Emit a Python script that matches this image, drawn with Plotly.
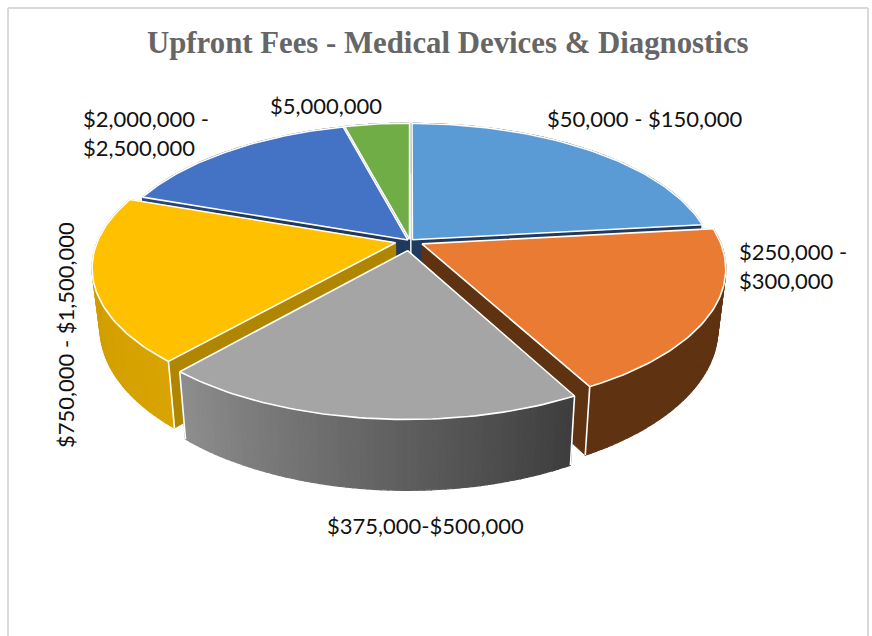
import math
import plotly.graph_objects as go

# Data
categories = ["$50,000 - $150,000", "$250,000 -<br>$300,000", "$375,000-$500,000",
              "$750,000 - $1,500,000", "$2,000,000 -<br>$2,500,000", "$5,000,000"]
shares = [23.2, 19.0, 19.2, 19.0, 15.5, 4.1]
title_text = "Upfront Fees - Medical Devices &amp; Diagnostics"

# Styles
top_colors = ["#5b9bd5", "#ea7b32", "#a5a5a5", "#ffc000", "#4472c4", "#70ad47"]
wall_left = ["#1f3a5c", "#5f3312", "#8e8e8e", "#d9a400", "#2a4679", "#43692b"]
wall_right = ["#1f3a5c", "#5f3312", "#3d3d3d", "#c99800", "#2a4679", "#43692b"]
face_start = ["#1f3a5c", "#1f3a5c", "#6f6f6f", "#b08600", "#1f3a5c", "#1f3a5c"]
face_end = ["#1f3a5c", "#5f3312", "#3d3d3d", "#b08600", "#1f3a5c", "#1f3a5c"]
explode = [0.012, 0.045, 0.07, 0.05, 0.01, 0.012]
draw_order = [0, 5, 4, 3, 1, 2]

CX, CY, A, B, K, DEPTH, CONV = 410, 241, 298, 136.5, 0.17, 58, 0.025


def project(X, Y, Z=0.0):
    s = 1 / (1 - K * Y)
    return CX + A * X * s * (1 - CONV * Z), CY + B * Y * s + DEPTH * Z * s


def mix(c1, c2, f):
    p = [int(c1[i:i + 2], 16) for i in (1, 3, 5)]
    q = [int(c2[i:i + 2], 16) for i in (1, 3, 5)]
    return "rgb(%d,%d,%d)" % tuple(round(a + (b - a) * f) for a, b in zip(p, q))


fig = go.Figure()


def poly(pts, fill, line=None, width=1.0):
    fig.add_trace(go.Scatter(
        x=[p[0] for p in pts] + [pts[0][0]], y=[p[1] for p in pts] + [pts[0][1]],
        mode="lines", fill="toself", fillcolor=fill,
        line=dict(color=line or fill, width=width), hoverinfo="skip", showlegend=False))


total = sum(shares)
bounds = [0.0]
for v in shares:
    bounds.append(bounds[-1] + v / total * 2 * math.pi)

for i in draw_order:
    t0, t1 = bounds[i], bounds[i + 1]
    mid = (t0 + t1) / 2
    ox, oy = explode[i] * math.sin(mid), -explode[i] * math.cos(mid)
    rim = lambda t, z=0.0: project(ox + math.sin(t), oy - math.cos(t), z)
    apex = lambda z=0.0: project(ox, oy, z)
    # radial faces
    poly([apex(), rim(t0), rim(t0, 1), apex(1)], face_start[i])
    poly([apex(), rim(t1), rim(t1, 1), apex(1)], face_end[i])
    # outer wall in small shaded pieces
    n = 60
    for j in range(n):
        a0 = t0 + (t1 - t0) * j / n
        a1 = t0 + (t1 - t0) * (j + 1) / n
        col = mix(wall_right[i], wall_left[i], (j + 0.5) / n) if i == 2 else mix(wall_left[i], wall_right[i], (j + 0.5) / n)
        poly([rim(a0), rim(a1), rim(a1, 1), rim(a0, 1)], col, None, 1.2)
    # white corner edges
    for t in (t0, t1):
        p, q = rim(t), rim(t, 1)
        if -math.cos(t) > -0.2:
            fig.add_trace(go.Scatter(x=[p[0], q[0]], y=[p[1], q[1]], mode="lines",
                                     line=dict(color="#ffffff", width=1.6),
                                     hoverinfo="skip", showlegend=False))
    # top surface
    pts = [apex()] + [rim(t0 + (t1 - t0) * j / 60) for j in range(61)]
    poly(pts, top_colors[i], "#ffffff", 1.6)

label_x = [645, 737, 425, 65, 81, 326]
label_y = [118, 266, 525, 335, 133, 105]
label_anchor = ["center", "left", "center", "center", "left", "center"]
label_angle = [0, 0, 0, -90, 0, 0]
for c, x, y, an, ang in zip(categories, label_x, label_y, label_anchor, label_angle):
    fig.add_annotation(x=x, y=y, xref="x", yref="y", text=c, showarrow=False, xanchor=an,
                       yanchor="middle", align="left", textangle=ang,
                       font=dict(family="Lato", size=22, color="#111111"))

fig.add_annotation(x=448, y=43, xref="x", yref="y", text="<b>" + title_text + "</b>", showarrow=False,
                   xanchor="center", yanchor="middle",
                   font=dict(family="Liberation Serif", size=30.8, color="#666666"))

border = dict(type="line", xref="x", yref="y", line=dict(color="#d9d9d9", width=2))
fig.add_shape(x0=8, y0=8, x1=868, y1=8, **border)
fig.add_shape(x0=8, y0=8, x1=8, y1=636, **border)
fig.add_shape(x0=868, y0=8, x1=868, y1=636, **border)

fig.update_xaxes(range=[0, 872], visible=False, fixedrange=True)
fig.update_yaxes(range=[636, 0], visible=False, fixedrange=True)
fig.update_layout(width=872, height=636, margin=dict(l=0, r=0, t=0, b=0),
                  paper_bgcolor="#ffffff", plot_bgcolor="#ffffff", showlegend=False)
fig.write_html("out.html", config={"displayModeBar": False},
               post_script="document.body.style.margin='0';document.documentElement.style.overflow='hidden';")
